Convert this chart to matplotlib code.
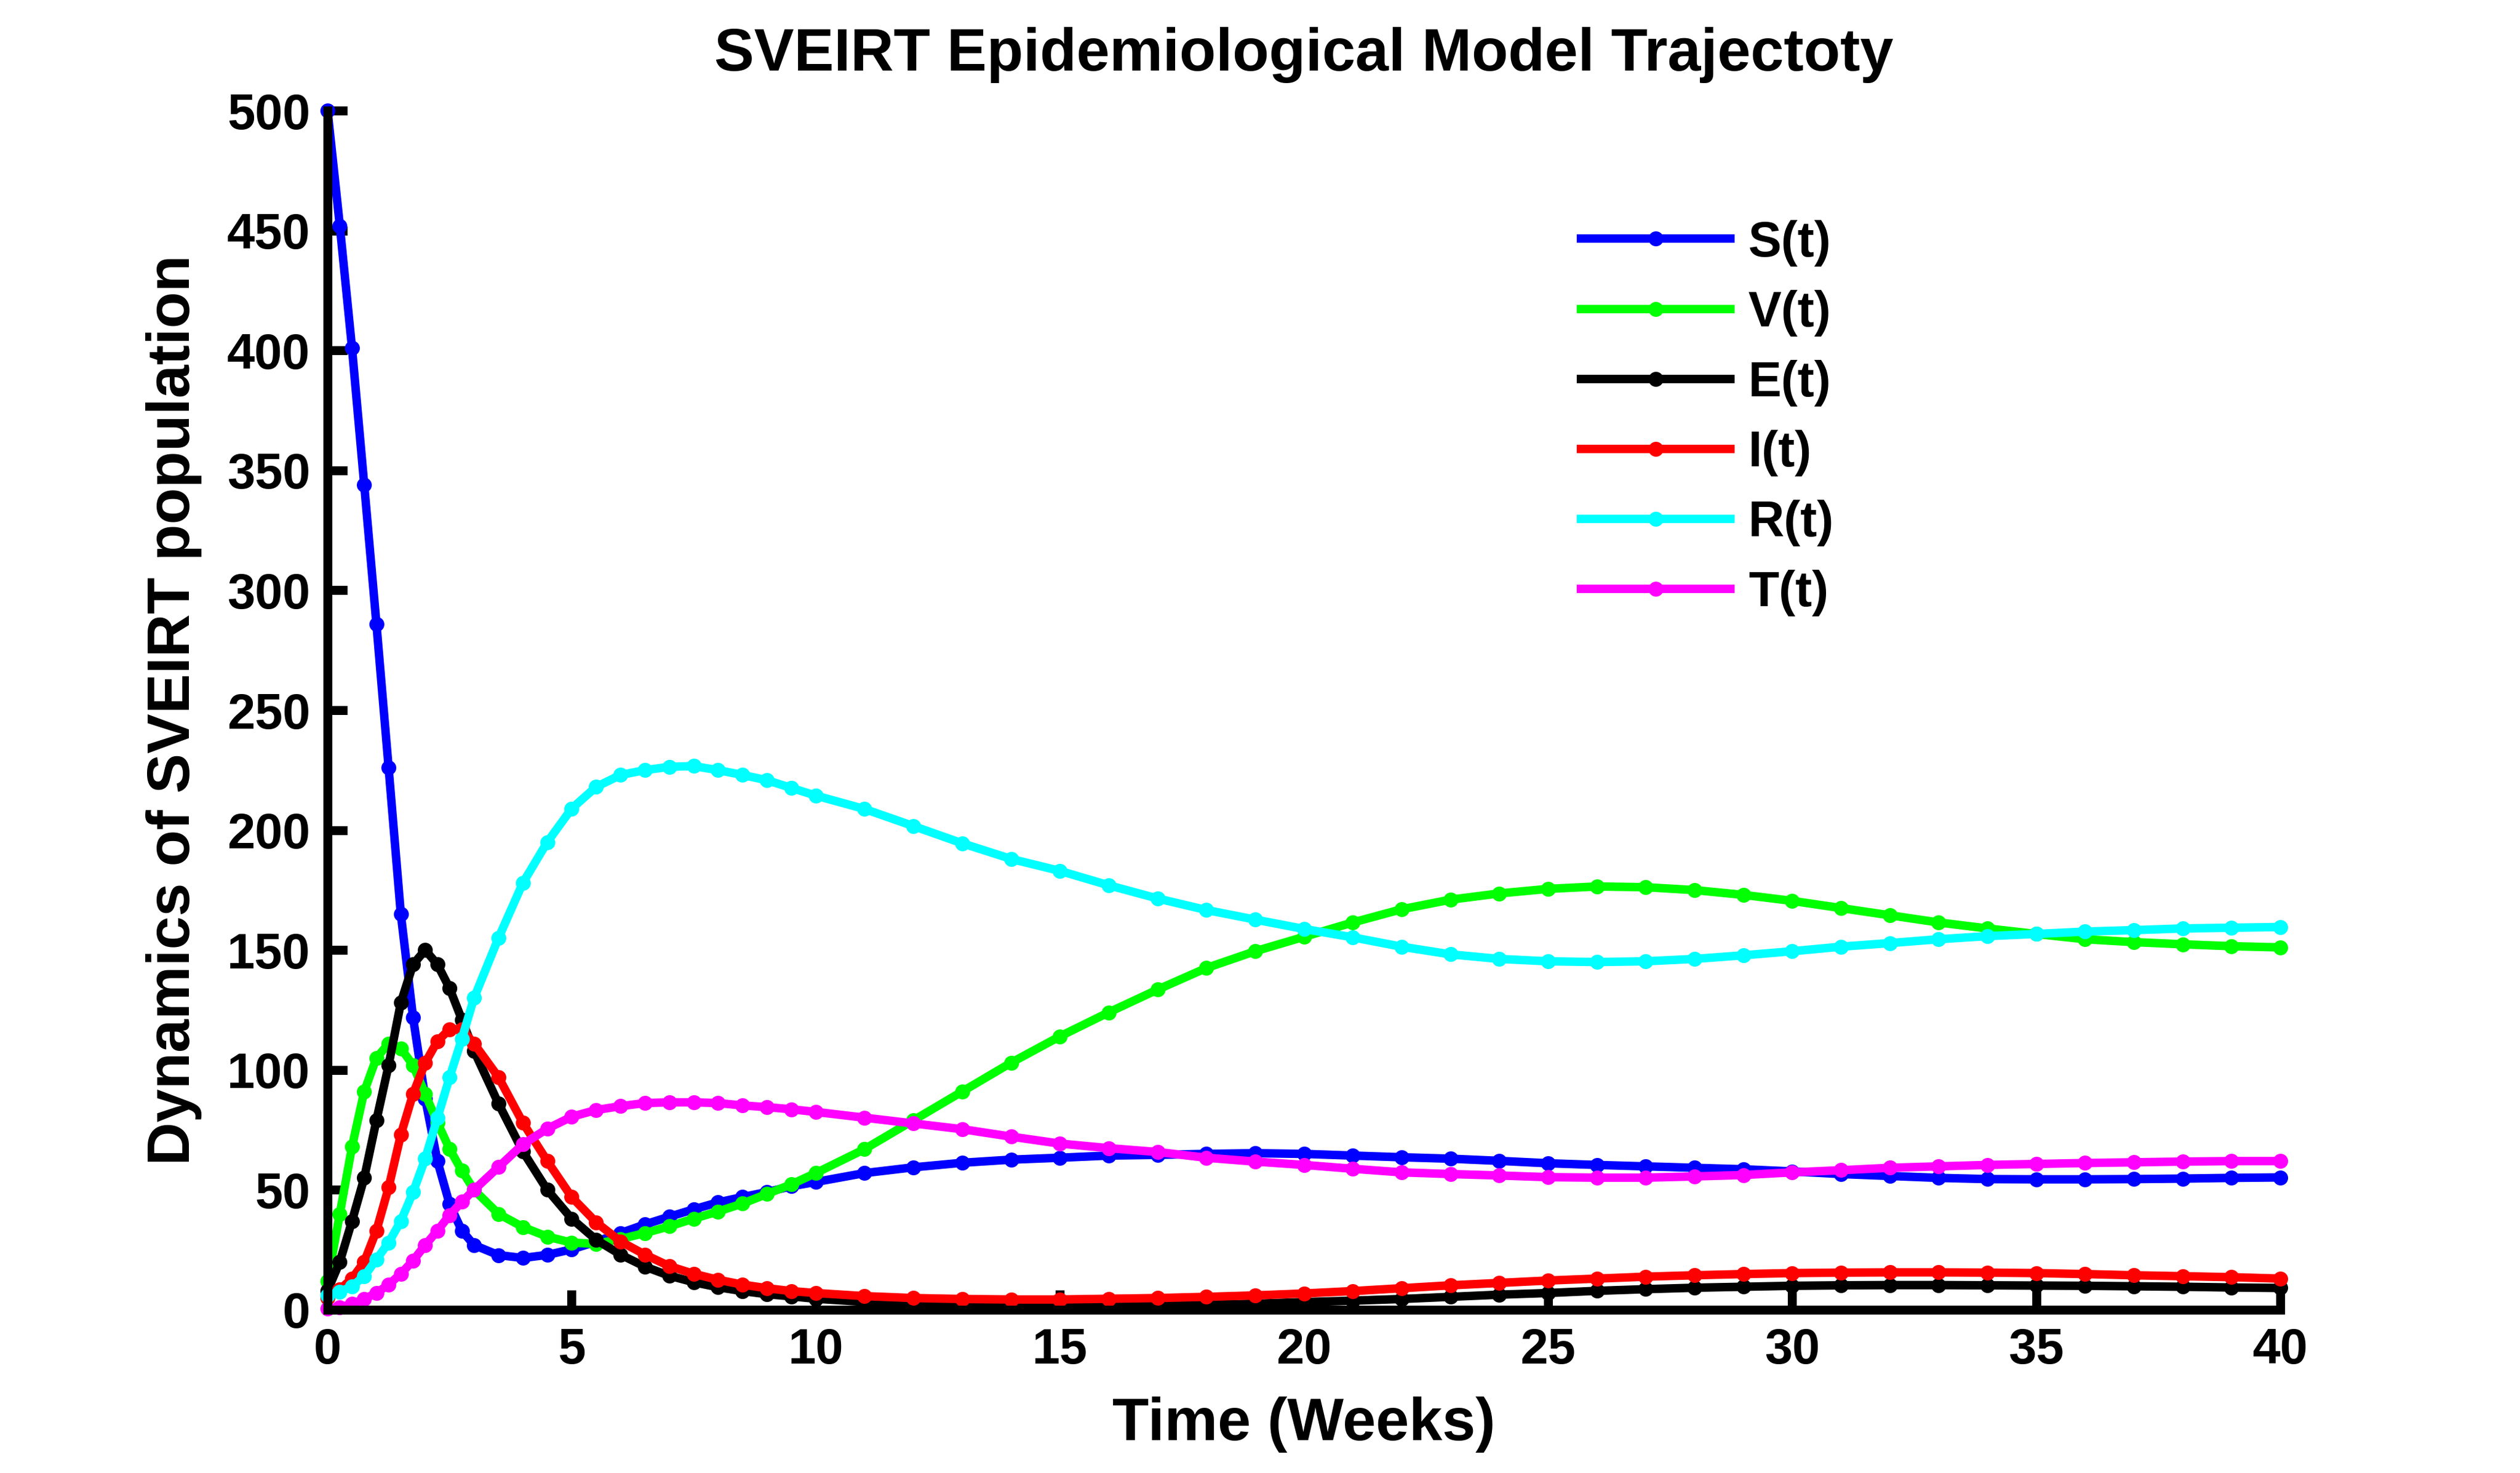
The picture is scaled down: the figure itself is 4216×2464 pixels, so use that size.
import numpy as np
import matplotlib
matplotlib.use("Agg")
import matplotlib.pyplot as plt

plt.rcParams['font.family'] = ['Liberation Sans', 'DejaVu Sans']
plt.rcParams['font.weight'] = 'bold'

# time grid (weeks) and values
t = [0, 0.25, 0.5, 0.75, 1, 1.25, 1.5, 1.75, 2, 2.25, 2.5, 2.75, 3,
     3.5, 4, 4.5, 5, 5.5, 6, 6.5, 7, 7.5, 8, 8.5, 9, 9.5, 10,
     11, 12, 13, 14, 15, 16, 17, 18, 19, 20,
     21, 22, 23, 24, 25, 26, 27, 28, 29, 30,
     31, 32, 33, 34, 35, 36, 37, 38, 39, 40]

S = [500, 452, 401, 344, 286, 226, 165, 122, 88, 62, 44, 33, 27,
     22.8, 21.6, 22.9, 25.2, 28.4, 32, 35.6, 38.8, 41.9, 44.8, 47, 49.1, 51.5, 53.3,
     57, 59.4, 61.3, 62.6, 63.4, 64.3, 64.6, 65, 65.3, 65,
     64.3, 63.6, 63, 62.1, 61.1, 60.4, 59.8, 59.2, 58.6, 57.7,
     56.6, 55.8, 55, 54.5, 54.4, 54.4, 54.5, 54.7, 55, 55.2]

V = [12, 40, 68, 91, 105, 111, 109, 102, 90, 78, 67, 58, 50,
     40, 34.5, 30.5, 28, 27.5, 29.5, 32, 34.8, 38, 41, 44.3, 48.3, 52.3, 57,
     67, 79, 91, 103, 114, 124, 133.5, 142.5, 149.5, 155.5,
     161.5, 167, 171, 173.6, 175.5, 176.5, 176.2, 175, 173, 170.5,
     167.5, 164.5, 161.5, 159, 156.7, 154.5, 153.3, 152.4, 151.6, 151.1]

E = [8, 20, 37, 55, 79, 102, 128, 144, 150, 144, 134, 121, 108,
     86, 66, 50, 38, 29.2, 23, 18, 14.2, 11.5, 9.4, 7.8, 6.5, 5.6, 4.6,
     3.3, 2.7, 2.2, 2, 2, 2, 2, 2.1, 2.5, 3.2,
     3.8, 4.5, 5.4, 6.3, 7, 7.9, 8.6, 9.2, 9.6, 10,
     10.2, 10.3, 10.3, 10.2, 10.1, 10, 9.8, 9.6, 9.3, 9.1]

I = [5, 8.5, 13, 20, 33, 51, 73, 90, 103, 112, 117, 117, 111,
     97, 78, 62, 47, 36.5, 28.5, 23, 18.2, 15, 12.5, 10.5, 9, 7.8, 7,
     5.7, 4.9, 4.5, 4.3, 4.3, 4.6, 4.9, 5.4, 6, 6.8,
     7.8, 9, 10.2, 11.2, 12.2, 13, 13.8, 14.4, 14.9, 15.3,
     15.5, 15.6, 15.6, 15.5, 15.3, 14.9, 14.4, 14, 13.6, 13]

R = [6, 7.5, 9.8, 14, 21, 28, 37, 49, 63, 80, 97, 113, 130,
     155, 178, 195, 209, 218, 223, 225, 226.4, 226.7, 225, 223, 220.8, 217.6, 214.4,
     208.8, 201.7, 194.5, 188, 183, 177, 171.5, 166.7, 162.7, 158.8,
     155.3, 151.4, 148.2, 146.3, 145.3, 145, 145.3, 146.3, 147.8, 149.5,
     151.4, 152.9, 154.5, 155.8, 156.7, 157.7, 158.3, 159, 159.3, 159.6]

T = [0.5, 1, 2.5, 4.5, 7, 10.5, 15, 20.5, 27, 33, 39.5, 45, 50,
     59.5, 69, 75.5, 80.5, 83.3, 84.9, 86.2, 86.5, 86.5, 86.2, 85.2, 84.5, 83.6, 82.5,
     80.1, 77.7, 75.3, 72.2, 69.3, 67.4, 65.8, 63.4, 61.8, 60.4,
     58.8, 57.3, 56.6, 56, 55.3, 55.1, 55.1, 55.6, 56.2, 57.3,
     58.2, 59.2, 59.8, 60.4, 60.8, 61.2, 61.5, 61.8, 62, 62]

series = [S, V, E, I, R, T]
labels = ['S(t)', 'V(t)', 'E(t)', 'I(t)', 'R(t)', 'T(t)']
colors = ['#0000ff', '#00ff00', '#000000', '#ff0000', '#00ffff', '#ff00ff']

fig = plt.figure(figsize=(4216 / 300, 2464 / 300), dpi=300)
ax = fig.add_axes([0.1300, 0.1108, 0.7749, 0.8141])

for y, lab, c in zip(series, labels, colors):
    ax.plot(t, y, '-o', color=c, lw=3.4, ms=5, mec=c, label=lab, clip_on=False)

ax.set_xlim(0, 40)
ax.set_ylim(0, 500)
ax.set_xticks(np.arange(0, 41, 5))
ax.set_yticks(np.arange(0, 501, 50))

for side in ['top', 'right']:
    ax.spines[side].set_visible(False)
for side in ['left', 'bottom']:
    ax.spines[side].set_linewidth(3.6)

ax.tick_params(direction='in', length=8, width=3.6, labelsize=20, pad=7)
for lbl in ax.get_xticklabels() + ax.get_yticklabels():
    lbl.set_fontweight('bold')

ax.set_title('SVEIRT Epidemiological Model Trajectoty', fontsize=24, fontweight='bold', pad=16)
ax.set_xlabel('Time (Weeks)', fontsize=24, fontweight='bold', labelpad=9)
ax.set_ylabel('Dynamics of SVEIRT population', fontsize=24, fontweight='bold', labelpad=10)

leg = ax.legend(loc='upper left', bbox_to_anchor=(2603 / 4216, 1 - 326 / 2464),
                bbox_transform=fig.transFigure, frameon=False, fontsize=20,
                handlelength=3.0, handletextpad=0.36, labelspacing=0.47,
                borderpad=0, numpoints=1)
for txt in leg.get_texts():
    txt.set_fontweight('bold')

fig.savefig('out.png', dpi=300)
